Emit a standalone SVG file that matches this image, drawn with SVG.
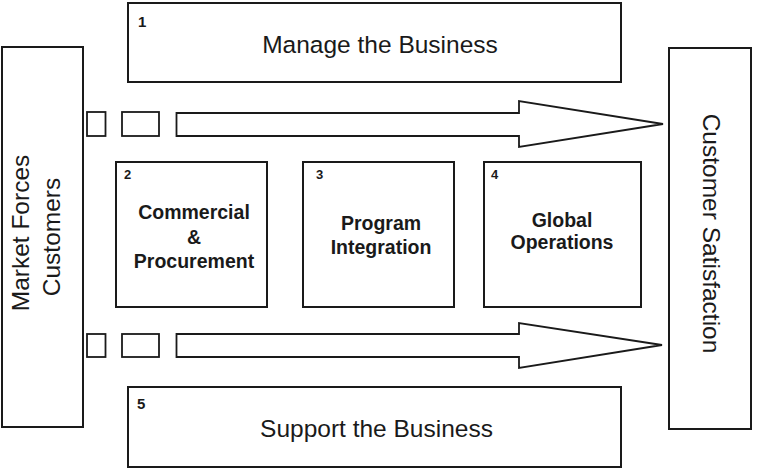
<svg xmlns="http://www.w3.org/2000/svg" width="759" height="470" viewBox="0 0 759 470">
<style>
.box{fill:#fff;stroke:#1a1a1a;stroke-width:2}
.arr{fill:#fff;stroke:#1a1a1a;stroke-width:1.8;stroke-linejoin:miter}
.big{font-family:"Liberation Sans",Arial,sans-serif;font-size:24.5px;fill:#1a1a1a}
.mid{font-family:"Liberation Sans",Arial,sans-serif;font-size:19.5px;font-weight:bold;fill:#1a1a1a;text-anchor:middle}
.num{font-family:"Liberation Sans",Arial,sans-serif;font-weight:bold;fill:#1a1a1a}
</style>
<rect width="759" height="470" fill="#fff"/>
<g id="connectors">
<rect class="arr" x="87" y="112" width="18.5" height="24"/>
<rect class="arr" x="122" y="112" width="37" height="24"/>
<polygon class="arr" points="176.5,113 519,113 519,101 663,124 519,147 519,136 176.5,136"/>
<rect class="arr" x="87" y="334" width="18.5" height="23"/>
<rect class="arr" x="122" y="334" width="37" height="23"/>
<polygon class="arr" points="176.5,334 519,334 519,323 662,345 519,368 519,357 176.5,357"/>
</g>
<g id="market">
<rect class="box" x="2" y="47" width="81" height="380"/>
<text class="big" font-size="25" text-anchor="middle" transform="translate(29,233) rotate(-90)">Market Forces</text>
<text class="big" font-size="25" text-anchor="middle" transform="translate(60,237) rotate(-90)">Customers</text>
</g>
<g id="satisfaction">
<rect class="box" x="669" y="48" width="82" height="381"/>
<text class="big" font-size="25" text-anchor="middle" transform="translate(703,233.5) rotate(90)">Customer Satisfaction</text>
</g>
<g id="n1">
<rect class="box" x="128" y="3" width="493" height="79"/>
<text class="num" font-size="15" x="138" y="27">1</text>
<text class="big" text-anchor="middle" x="380" y="53">Manage the Business</text>
</g>
<g id="n2">
<rect class="box" x="116" y="162" width="151" height="145"/>
<text class="num" font-size="13" x="124" y="179">2</text>
<text class="mid" x="194" y="219">Commercial</text>
<text class="mid" x="194" y="244">&amp;</text>
<text class="mid" x="194" y="268">Procurement</text>
</g>
<g id="n3">
<rect class="box" x="303" y="162" width="151" height="145"/>
<text class="num" font-size="13" x="316" y="179">3</text>
<text class="mid" x="381" y="230">Program</text>
<text class="mid" x="381" y="254">Integration</text>
</g>
<g id="n4">
<rect class="box" x="484" y="162" width="157" height="145"/>
<text class="num" font-size="13" x="491" y="179">4</text>
<text class="mid" x="562" y="227">Global</text>
<text class="mid" x="562" y="249">Operations</text>
</g>
<g id="n5">
<rect class="box" x="128" y="387" width="493" height="80"/>
<text class="num" font-size="15" x="137" y="409">5</text>
<text class="big" text-anchor="middle" x="376.5" y="437">Support the Business</text>
</g>
</svg>
